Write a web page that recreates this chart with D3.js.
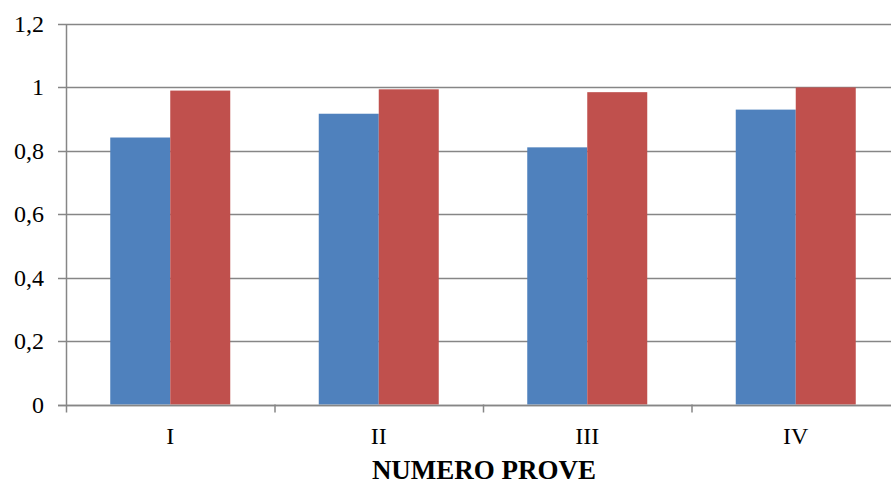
<!DOCTYPE html>
<html>
<head>
<meta charset="utf-8">
<script src="https://cdn.jsdelivr.net/npm/d3@7"></script>
<style>
  html, body { margin: 0; padding: 0; background: #fff; }
  svg { display: block; }
  text { font-family: "Liberation Serif", "Times New Roman", serif; fill: #000; }
</style>
</head>
<body>
<svg id="chart" width="891" height="484"></svg>
<script>
// Test categories and the two measured series
const categories = ["I", "II", "III", "IV"];
const seriesA = [0.842, 0.917, 0.811, 0.930];
const seriesB = [0.990, 0.994, 0.985, 1.000];
const yTicks = [0, 0.2, 0.4, 0.6, 0.8, 1, 1.2];
const xTitle = "NUMERO PROVE";
const colors = ["#4F81BD", "#C0504D"];

const svg = d3.select("#chart");
const plotLeft = 66, plotRight = 900, plotTop = 24, plotBottom = 404.5;

const x = d3.scaleBand().domain(categories).range([plotLeft, plotRight]);
const inner = d3.scaleBand().domain([0, 1]).range([0, 120]);
const y = d3.scaleLinear().domain([0, 1.2]).range([plotBottom, plotTop]);

// horizontal gridlines
svg.append("g")
  .selectAll("line")
  .data(yTicks)
  .join("line")
  .attr("x1", plotLeft - 8)
  .attr("x2", 891)
  .attr("y1", d => Math.round(y(d)) + 0.5)
  .attr("y2", d => Math.round(y(d)) + 0.5)
  .attr("stroke", "#868686")
  .attr("stroke-width", 1.5);

// bars
const groups = svg.append("g")
  .selectAll("g")
  .data(categories)
  .join("g")
  .attr("transform", d => `translate(${x(d) + x.bandwidth() / 2 - 60},0)`);

groups.selectAll("rect")
  .data((d, i) => [seriesA[i], seriesB[i]])
  .join("rect")
  .attr("x", (d, j) => inner(j))
  .attr("width", inner.bandwidth())
  .attr("y", d => y(d))
  .attr("height", d => y(0) - y(d))
  .attr("fill", (d, j) => colors[j]);

// y axis line
svg.append("line")
  .attr("x1", plotLeft + 0.5).attr("x2", plotLeft + 0.5)
  .attr("y1", plotTop).attr("y2", plotBottom + 8)
  .attr("stroke", "#868686").attr("stroke-width", 1.5);

// x axis baseline and category separators
svg.append("line")
  .attr("x1", plotLeft - 8).attr("x2", 891)
  .attr("y1", Math.round(y(0)) + 0.5).attr("y2", Math.round(y(0)) + 0.5)
  .attr("stroke", "#868686").attr("stroke-width", 1.5);

svg.append("g")
  .selectAll("line")
  .data(categories.slice(1))
  .join("line")
  .attr("x1", d => x(d) + 0.5)
  .attr("x2", d => x(d) + 0.5)
  .attr("y1", plotBottom)
  .attr("y2", plotBottom + 8)
  .attr("stroke", "#868686").attr("stroke-width", 1.5);

// y tick labels
svg.append("g")
  .selectAll("text")
  .data(yTicks)
  .join("text")
  .attr("x", 44)
  .attr("y", d => y(d) + 8)
  .attr("text-anchor", "end")
  .attr("font-size", 24)
  .text(d => d3.format(".1~f")(d).replace(".", ","));

// category labels
svg.append("g")
  .selectAll("text")
  .data(categories)
  .join("text")
  .attr("x", d => x(d) + x.bandwidth() / 2)
  .attr("y", 444)
  .attr("text-anchor", "middle")
  .attr("font-size", 24)
  .text(d => d);

// axis title
svg.append("text")
  .attr("x", 484)
  .attr("y", 479)
  .attr("text-anchor", "middle")
  .attr("font-size", 27)
  .attr("font-weight", "bold")
  .text(xTitle);
</script>
</body>
</html>
